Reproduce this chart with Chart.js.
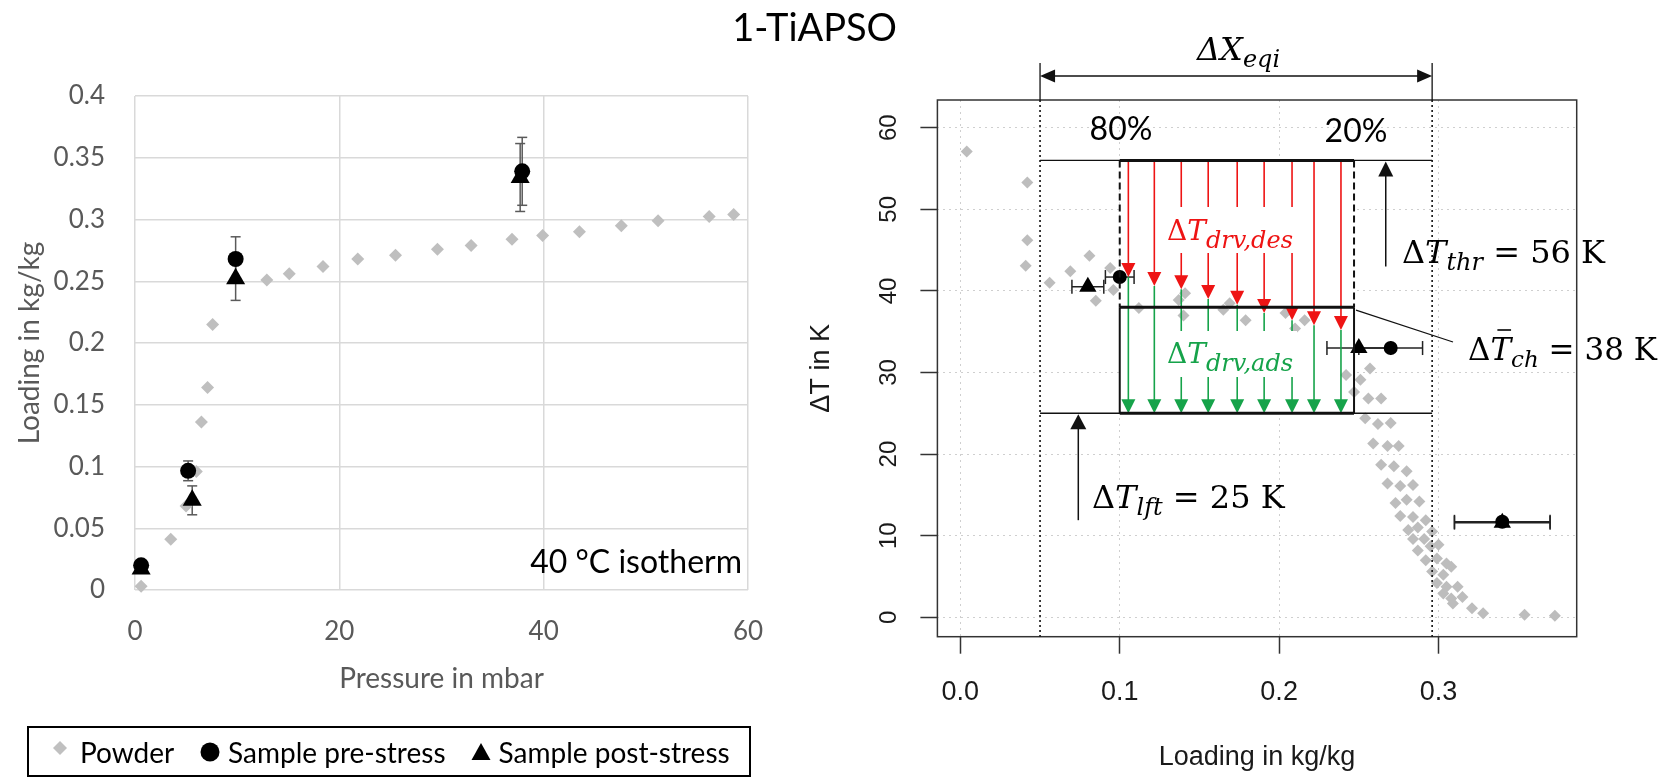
<!DOCTYPE html>
<html>
<head>
<meta charset="utf-8">
<script src="https://cdn.jsdelivr.net/npm/chart.js@4.4.1/dist/chart.umd.min.js"></script>
<style>
  html, body { margin: 0; padding: 0; background: #fff; }
  #wrap { position: relative; width: 1666px; height: 778px; overflow: hidden; }
  canvas { position: absolute; left: 0; top: 0; }
</style>
</head>
<body>
<div id="wrap">
  <canvas id="left" width="1666" height="778"></canvas>
  <canvas id="right" width="1666" height="778"></canvas>
</div>
<script>
// ---- left panel: 40 °C isotherm (pressure in mbar vs loading in kg/kg) ----
const powderP = [0.6, 3.5, 5.0, 6.0, 6.5, 7.1, 7.6, 12.9, 15.1, 18.4, 21.8, 25.5, 29.6, 32.9, 36.9, 39.9, 43.5, 47.6, 51.2, 56.2, 58.6];
const powderL = [0.003, 0.041, 0.068, 0.096, 0.136, 0.164, 0.215, 0.251, 0.256, 0.262, 0.268, 0.271, 0.276, 0.279, 0.284, 0.287, 0.290, 0.295, 0.299, 0.3025, 0.304];
const preP = [0.6, 5.2, 9.85, 37.9];
const preL = [0.020, 0.0965, 0.268, 0.339];
const preErr = [0, 0.008, 0.018, 0.0275];
const postP = [0.6, 5.6, 9.85, 37.7];
const postL = [0.017, 0.0726, 0.252, 0.334];
const postErr = [0, 0.0117, 0.0175, 0.0275];
const pressTicks = [0, 20, 40, 60];
const loadTicks = [0, 0.05, 0.1, 0.15, 0.2, 0.25, 0.3, 0.35, 0.4];
const loadTickLabels = ['0', '0.05', '0.1', '0.15', '0.2', '0.25', '0.3', '0.35', '0.4'];

// ---- right panel: ΔT vs loading ----
const dXpowder = [0.004, 0.042, 0.042, 0.041, 0.056, 0.069, 0.081, 0.085, 0.094, 0.096, 0.112, 0.137, 0.141, 0.140, 0.165, 0.169, 0.179, 0.204, 0.210, 0.216,
  0.242, 0.251, 0.257, 0.247, 0.256, 0.264, 0.254, 0.262, 0.270, 0.259, 0.268, 0.275, 0.264, 0.272, 0.280, 0.268, 0.276, 0.284, 0.273, 0.280,
  0.288, 0.276, 0.284, 0.292, 0.281, 0.287, 0.296, 0.284, 0.291, 0.287, 0.295, 0.300, 0.292, 0.299, 0.305, 0.296, 0.303, 0.308, 0.299, 0.305,
  0.312, 0.303, 0.308, 0.315, 0.309, 0.321, 0.328, 0.354, 0.373];
const dTpowder = [57.1, 53.3, 46.2, 43.1, 41.0, 42.4, 44.3, 38.8, 42.8, 40.1, 37.9, 38.9, 39.7, 37.0, 37.7, 38.5, 36.4, 37.3, 35.4, 36.4,
  29.7, 29.1, 30.5, 27.6, 26.8, 26.8, 24.4, 23.7, 23.8, 21.3, 21.0, 21.0, 18.7, 18.5, 17.9, 16.4, 16.1, 16.2, 14.0, 14.4,
  14.2, 12.4, 12.3, 11.9, 10.7, 11.0, 10.5, 9.6, 9.6, 8.2, 8.7, 8.9, 7.0, 7.2, 6.6, 5.6, 5.2, 6.2, 4.2, 3.75,
  3.75, 2.9, 2.3, 2.5, 1.7, 1.1, 0.5, 0.3, 0.2];
const preX = [0.100, 0.270, 0.340];
const preT = [41.7, 33.0, 11.7];
const preXErr = [0.009, 0.020, 0.030];
const postX = [0.080, 0.250, 0.340];
const postT = [40.5, 33.0, 11.6];
const postXErr = [0.010, 0.020, 0.030];
const loadTicksR = [0, 0.1, 0.2, 0.3];
const loadTickLabelsR = ['0.0', '0.1', '0.2', '0.3'];
const dTTicks = [0, 10, 20, 30, 40, 50, 60];
const dTTickLabels = ['0', '10', '20', '30', '40', '50', '60'];

// design points of the cycle
const xEqi = [0.05, 0.296];      // ΔX_eqi limits
const boxX = [0.10, 0.247];      // 80% / 20% loading
const tThr = 56, tCh = 38, tLft = 25;
const arrowX = [0.1054, 0.1217, 0.1386, 0.1555, 0.1737, 0.1906, 0.2081, 0.2219, 0.2388];
const arrowT = [41.7, 40.6, 40.2, 39.0, 38.3, 37.3, 36.4, 35.8, 35.2];

const RED = '#ee1414', GREEN = '#16a34a';
const SERIF = "'DejaVu Serif'";
const up = s => `${s}px ${SERIF}`;
const it = s => `italic ${s}px ${SERIF}`;

const pts = (xs, ys) => xs.map((v, i) => ({ x: v, y: ys[i] }));

function line(ctx, x1, y1, x2, y2) {
  ctx.beginPath(); ctx.moveTo(x1, y1); ctx.lineTo(x2, y2); ctx.stroke();
}
// filled arrow head, tip at (x,y) pointing along (dx,dy)
function head(ctx, x, y, dx, dy, len, half) {
  const bx = x - dx * len, by = y - dy * len;
  ctx.beginPath();
  ctx.moveTo(x, y);
  ctx.lineTo(bx - dy * half, by + dx * half);
  ctx.lineTo(bx + dy * half, by - dx * half);
  ctx.closePath(); ctx.fill();
}
// text made of runs: [text, font, dy]
function rich(ctx, x, y, parts, color, dry) {
  ctx.textAlign = 'left'; ctx.textBaseline = 'alphabetic'; ctx.fillStyle = color;
  let cx = x; const boxes = [];
  parts.forEach(([t, f, dy]) => {
    ctx.font = f;
    const w = ctx.measureText(t).width;
    if (!dry) ctx.fillText(t, cx, y + (dy || 0));
    boxes.push([cx, w]); cx += w;
  });
  return { end: cx, boxes };
}

// ---------- left chart ----------
const leftPlugin = {
  id: 'leftDeco',
  beforeDatasetsDraw(chart) {
    const { ctx, scales: { x, y } } = chart;
    ctx.save();
    ctx.strokeStyle = '#5a5a5a'; ctx.lineWidth = 1.5;
    const bars = (xs, ys, es) => xs.forEach((v, i) => {
      if (!es[i]) return;
      const px = x.getPixelForValue(v), y1 = y.getPixelForValue(ys[i] + es[i]), y2 = y.getPixelForValue(ys[i] - es[i]);
      line(ctx, px, y1, px, y2);
      line(ctx, px - 5, y1, px + 5, y1);
      line(ctx, px - 5, y2, px + 5, y2);
    });
    bars(preP, preL, preErr);
    bars(postP, postL, postErr);
    ctx.restore();
  },
  afterDraw(chart) {
    const { ctx, chartArea: ca } = chart;
    ctx.save();
    // axis titles
    ctx.fillStyle = '#595959'; ctx.font = '28px Lato';
    ctx.textAlign = 'center'; ctx.textBaseline = 'alphabetic';
    ctx.fillText('Pressure in mbar', (ca.left + ca.right) / 2, 688);
    ctx.save();
    ctx.translate(30, (ca.top + ca.bottom) / 2); ctx.rotate(-Math.PI / 2);
    ctx.textBaseline = 'middle';
    ctx.fillText('Loading in kg/kg', 0, 0);
    ctx.restore();
    // isotherm label
    ctx.fillStyle = '#000'; ctx.font = '32px Lato'; ctx.textAlign = 'right';
    ctx.fillText('40 °C isotherm', 742, 573);
    // figure title
    ctx.font = '38px Lato';
    ctx.fillText('1-TiAPSO', 897, 41);
    // legend box
    ctx.strokeStyle = '#000'; ctx.lineWidth = 2;
    ctx.strokeRect(28, 727, 722, 49);
    ctx.font = '28px Lato'; ctx.textAlign = 'left'; ctx.fillStyle = '#000';
    const by = 763;
    ctx.fillStyle = '#c0c0c0';
    ctx.beginPath(); ctx.moveTo(60, 741); ctx.lineTo(67, 748); ctx.lineTo(60, 755); ctx.lineTo(53, 748); ctx.closePath(); ctx.fill();
    ctx.fillStyle = '#000';
    ctx.fillText('Powder', 80, by);
    ctx.beginPath(); ctx.arc(210, 752, 9.5, 0, Math.PI * 2); ctx.fill();
    ctx.fillText('Sample pre-stress', 228, by);
    const tx = 228 + ctx.measureText('Sample pre-stress').width + 26;
    ctx.beginPath(); ctx.moveTo(tx + 9.5, 743); ctx.lineTo(tx + 19, 760); ctx.lineTo(tx, 760); ctx.closePath(); ctx.fill();
    ctx.fillText('Sample post-stress', tx + 27, by);
    ctx.restore();
  }
};

new Chart(document.getElementById('left'), {
  type: 'scatter',
  data: {
    datasets: [
      { label: 'Powder', data: pts(powderP, powderL), pointStyle: 'rectRot', pointRadius: 6.5,
        pointBackgroundColor: '#bfbfbf', pointBorderWidth: 0, order: 2, clip: false },
      { label: 'Sample pre-stress', data: pts(preP, preL), pointStyle: 'circle', pointRadius: 8,
        pointBackgroundColor: '#000', pointBorderWidth: 0, order: 1, clip: false },
      { label: 'Sample post-stress', data: pts(postP, postL), pointStyle: 'triangle', pointRadius: 11,
        pointBackgroundColor: '#000', pointBorderWidth: 0, order: 0, clip: false }
    ]
  },
  options: {
    responsive: false, animation: false, events: [],
    layout: { padding: { left: 0, right: 1666 - 748, top: 96, bottom: 0 } },
    plugins: { legend: { display: false }, tooltip: { enabled: false } },
    scales: {
      x: {
        type: 'linear', min: 0, max: 60,
        afterBuildTicks: s => { s.ticks = pressTicks.map(v => ({ value: v })); },
        afterFit: s => { s.height = 778 - 590; },
        grid: { color: '#d9d9d9', lineWidth: 1.5, drawTicks: false },
        border: { display: false },
        ticks: { font: { family: 'Lato', size: 26 }, color: '#595959', padding: 26, maxRotation: 0 }
      },
      y: {
        type: 'linear', min: 0, max: 0.4,
        afterBuildTicks: s => { s.ticks = loadTicks.map(v => ({ value: v })); },
        afterFit: s => { s.width = 135; },
        grid: { color: '#d9d9d9', lineWidth: 1.5, drawTicks: false },
        border: { display: false },
        ticks: { font: { family: 'Lato', size: 26 }, color: '#595959', padding: 30,
          callback: (v, i) => loadTickLabels[i] }
      }
    }
  },
  plugins: [leftPlugin]
});

// ---------- right chart ----------
const rightPlugin = {
  id: 'rightDeco',
  beforeDatasetsDraw(chart) {
    const { ctx, scales: { x, y } } = chart;
    const X = v => x.getPixelForValue(v), Y = v => y.getPixelForValue(v);
    ctx.save();
    // white cycle box hides the grid behind it
    ctx.fillStyle = '#fff';
    ctx.fillRect(X(boxX[0]), Y(tThr), X(boxX[1]) - X(boxX[0]), Y(tLft) - Y(tThr));
    // horizontal error bars
    ctx.strokeStyle = '#222'; ctx.lineWidth = 1.5;
    const bars = (xs, ys, es) => xs.forEach((v, i) => {
      const py = Y(ys[i]), x1 = X(v - es[i]), x2 = X(v + es[i]);
      line(ctx, x1, py, x2, py);
      line(ctx, x1, py - 7, x1, py + 7);
      line(ctx, x2, py - 7, x2, py + 7);
    });
    bars(preX, preT, preXErr);
    bars(postX, postT, postXErr);
    ctx.restore();
  },
  afterDatasetsDraw(chart) {
    const { ctx, chartArea: ca, scales: { x, y } } = chart;
    const X = v => x.getPixelForValue(v), Y = v => y.getPixelForValue(v);
    ctx.save();
    ctx.lineCap = 'butt';

    // plot frame
    ctx.strokeStyle = '#333'; ctx.lineWidth = 1.5;
    ctx.strokeRect(ca.left, ca.top, ca.right - ca.left, ca.bottom - ca.top);

    // ΔX_eqi limits
    ctx.strokeStyle = '#111'; ctx.fillStyle = '#111';
    ctx.setLineDash([2, 3]); ctx.lineWidth = 1.6;
    xEqi.forEach(v => line(ctx, X(v), ca.top, X(v), ca.bottom));
    ctx.setLineDash([]); ctx.lineWidth = 1.3;
    xEqi.forEach(v => line(ctx, X(v), 63, X(v), ca.top));
    line(ctx, X(xEqi[0]) + 12, 76, X(xEqi[1]) - 12, 76);
    head(ctx, X(xEqi[0]), 76, -1, 0, 15, 6.5);
    head(ctx, X(xEqi[1]), 76, 1, 0, 15, 6.5);

    // thin reference lines at ΔT_thr and ΔT_lft
    ctx.lineWidth = 1.4;
    line(ctx, X(xEqi[0]), Y(tThr), X(xEqi[1]), Y(tThr));
    line(ctx, X(xEqi[0]), Y(tLft), X(xEqi[1]), Y(tLft));

    // red desorption / green adsorption arrows
    ctx.lineWidth = 1.6;
    arrowX.forEach((v, i) => {
      const px = X(v), yTip = Y(arrowT[i]);
      ctx.strokeStyle = RED; ctx.fillStyle = RED;
      line(ctx, px, Y(tThr), px, yTip - 10);
      head(ctx, px, yTip, 0, 1, 14, 7);
      ctx.strokeStyle = GREEN; ctx.fillStyle = GREEN;
      line(ctx, px, yTip, px, Y(tLft) - 10);
      head(ctx, px, Y(tLft), 0, 1, 14, 7);
    });

    // cycle box
    ctx.strokeStyle = '#111'; ctx.fillStyle = '#111';
    ctx.lineWidth = 2;
    ctx.setLineDash([7, 4]);
    boxX.forEach(v => line(ctx, X(v), Y(tThr), X(v), Y(tCh)));
    ctx.setLineDash([]);
    boxX.forEach(v => line(ctx, X(v), Y(tCh), X(v), Y(tLft)));
    ctx.lineWidth = 3;
    [tThr, tCh, tLft].forEach(t => line(ctx, X(boxX[0]), Y(t), X(boxX[1]), Y(t)));

    // ΔT_thr and ΔT_lft pointer arrows
    ctx.lineWidth = 1.5;
    line(ctx, X(0.2669), Y(43), X(0.2669), Y(tThr) + 10);
    head(ctx, X(0.2669), Y(tThr) + 1, 0, -1, 15, 7.5);
    line(ctx, X(0.074), Y(11.9), X(0.074), Y(tLft) + 10);
    head(ctx, X(0.074), Y(tLft) + 1, 0, -1, 15, 8);
    // leader line to mean ΔT label
    ctx.lineWidth = 1.3;
    line(ctx, X(boxX[1]) + 2, Y(tCh) + 3, 1453, 342);

    // labels
    ctx.font = '32px Lato'; ctx.fillStyle = '#000'; ctx.textAlign = 'center'; ctx.textBaseline = 'alphabetic';
    ctx.fillText('80%', 1121, 140);
    ctx.fillText('20%', 1356, 142);

    rich(ctx, 1197, 60, [['ΔX', it(32)], ['eqi', it(24), 7]], '#000');
    rich(ctx, 1402, 263, [['Δ', up(32)], ['T', it(32)], ['thr', it(24), 7], [' = ' + tThr + ' K', up(32)]], '#000');
    const ch = rich(ctx, 1468, 360, [['Δ', up(31)], ['T', it(31)], ['ch', it(23), 7], [' = ' + tCh + ' K', up(31)]], '#000');
    ctx.strokeStyle = '#000'; ctx.lineWidth = 1.6;
    line(ctx, ch.boxes[1][0] + 7, 330, ch.boxes[1][0] + ch.boxes[1][1], 330);
    rich(ctx, 1092, 508, [['Δ', up(32)], ['T', it(32)], ['lft', it(24), 7], [' = ' + tLft + ' K', up(32)]], '#000');

    const des = [['Δ', up(28)], ['T', it(28)], ['drv,des', it(24), 8]];
    const ads = [['Δ', up(28)], ['T', it(28)], ['drv,ads', it(24), 8]];
    ctx.fillStyle = '#fff';
    const wd = rich(ctx, 1167, 240, des, '#fff', true).end;
    ctx.fillRect(1163, 207, wd - 1163 + 4, 46);
    const wa = rich(ctx, 1167, 363, ads, '#fff', true).end;
    ctx.fillRect(1163, 331, wa - 1163 + 4, 46);
    rich(ctx, 1167, 240, des, RED);
    rich(ctx, 1167, 363, ads, GREEN);

    // tick labels and axis titles
    ctx.fillStyle = '#1a1a1a';
    ctx.font = "27px 'Liberation Sans'"; ctx.textAlign = 'center'; ctx.textBaseline = 'alphabetic';
    loadTicksR.forEach((v, i) => ctx.fillText(loadTickLabelsR[i], X(v), 700));
    ctx.fillText('Loading in kg/kg', (ca.left + ca.right) / 2, 765);
    ctx.font = "24px 'Liberation Sans'"; ctx.textBaseline = 'middle';
    dTTicks.forEach((v, i) => {
      ctx.save(); ctx.translate(889, Y(v)); ctx.rotate(-Math.PI / 2);
      ctx.fillText(dTTickLabels[i], 0, 0); ctx.restore();
    });
    ctx.font = "27px 'Liberation Sans'";
    ctx.save(); ctx.translate(822, (ca.top + ca.bottom) / 2); ctx.rotate(-Math.PI / 2);
    ctx.fillText('ΔT in K', 0, 0); ctx.restore();

    ctx.restore();
  }
};

new Chart(document.getElementById('right'), {
  type: 'scatter',
  data: {
    datasets: [
      { label: 'Powder', data: pts(dXpowder, dTpowder), pointStyle: 'rectRot', pointRadius: 6,
        pointBackgroundColor: '#bdbdbd', pointBorderWidth: 0, order: 2, clip: false },
      { label: 'Sample pre-stress', data: pts(preX, preT), pointStyle: 'circle', pointRadius: 7,
        pointBackgroundColor: '#000', pointBorderWidth: 0, order: 1, clip: false },
      { label: 'Sample post-stress', data: pts(postX, postT), pointStyle: 'triangle', pointRadius: 10,
        pointBackgroundColor: '#000', pointBorderWidth: 0, order: 0, clip: false }
    ]
  },
  options: {
    responsive: false, animation: false, events: [],
    layout: { padding: { left: 937.4, right: 1666 - 1576.7, top: 100, bottom: 778 - 636.7 } },
    plugins: { legend: { display: false }, tooltip: { enabled: false } },
    scales: {
      x: {
        type: 'linear', min: -0.0144, max: 0.3867,
        afterBuildTicks: s => { s.ticks = loadTicksR.map(v => ({ value: v })); },
        afterFit: s => { s.height = 0; },
        ticks: { display: false },
        grid: { color: '#cfcfcf', lineWidth: 1, tickLength: 17, tickColor: '#333', tickWidth: 1.5, tickBorderDash: [] },
        border: { display: false, dash: [2, 4] }
      },
      y: {
        type: 'linear', min: -2.38, max: 63.4,
        afterBuildTicks: s => { s.ticks = dTTicks.map(v => ({ value: v })); },
        afterFit: s => { s.width = 0; },
        ticks: { display: false },
        grid: { color: '#cfcfcf', lineWidth: 1, tickLength: 17, tickColor: '#333', tickWidth: 1.5, tickBorderDash: [] },
        border: { display: false, dash: [2, 4] }
      }
    }
  },
  plugins: [rightPlugin]
});
</script>
</body>
</html>
